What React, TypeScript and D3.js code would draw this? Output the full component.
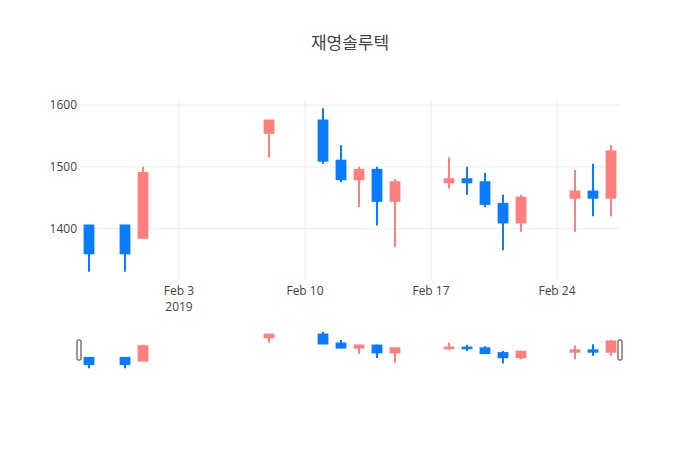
import { useMemo } from "react";
import * as d3 from "d3";

const TITLE = "재영솔루텍";

const DATES = [
  "2019-01-29", "2019-01-31", "2019-02-01", "2019-02-08", "2019-02-11",
  "2019-02-12", "2019-02-13", "2019-02-14", "2019-02-15", "2019-02-18",
  "2019-02-19", "2019-02-20", "2019-02-21", "2019-02-22", "2019-02-25",
  "2019-02-26", "2019-02-27",
];
const OPENS = [1405, 1405, 1385, 1555, 1575, 1510, 1480, 1495, 1445, 1475, 1480, 1475, 1440, 1410, 1450, 1460, 1450];
const HIGHS = [1405, 1405, 1500, 1575, 1595, 1535, 1500, 1500, 1480, 1515, 1500, 1490, 1455, 1455, 1495, 1505, 1535];
const LOWS = [1330, 1330, 1385, 1515, 1505, 1475, 1435, 1405, 1370, 1465, 1455, 1435, 1365, 1395, 1395, 1420, 1420];
const CLOSES = [1360, 1360, 1490, 1575, 1510, 1480, 1495, 1445, 1475, 1480, 1475, 1440, 1410, 1450, 1460, 1450, 1525];

const X_TICKS = ["2019-02-03", "2019-02-10", "2019-02-17", "2019-02-24"];
const X_TICK_LABELS = ["Feb 3", "Feb 10", "Feb 17", "Feb 24"];
const Y_TICKS = [1400, 1500, 1600];

const UP = "#ff7f7f";
const DOWN = "#0a7bff";
const FONT = "'Open Sans', 'Noto Sans CJK KR', sans-serif";

const W = 700;
const H = 450;
const margin = { left: 80, right: 80, top: 100 };
const plotBottom = 280;
const slider = { top: 330, bottom: 370 };

const parse = (s: string) => new Date(s + "T00:00:00Z");
const HALF_DAY = 12 * 3600 * 1000;

export default function App() {
  const candles = useMemo(
    () =>
      DATES.map((d, i) => ({
        date: parse(d),
        open: OPENS[i],
        high: HIGHS[i],
        low: LOWS[i],
        close: CLOSES[i],
      })),
    []
  );

  const first = candles[0].date.getTime();
  const last = candles[candles.length - 1].date.getTime();
  const x = d3
    .scaleUtc()
    .domain([new Date(first - HALF_DAY), new Date(last + HALF_DAY)])
    .range([margin.left, W - margin.right]);

  const lo = d3.min(LOWS)!;
  const hi = d3.max(HIGHS)!;
  const pad = (hi - lo) * 0.05;
  const yDomain = [lo - pad, hi + pad];
  const y = d3.scaleLinear().domain(yDomain).range([plotBottom, margin.top]);
  const ys = d3.scaleLinear().domain(yDomain).range([slider.bottom, slider.top]);

  // half body width, in pixels (plotly box gaps)
  const dayPx = x(new Date(first + 2 * HALF_DAY)) - x(new Date(first));
  const halfW = dayPx * 0.245;

  const drawCandles = (yScale: d3.ScaleLinear<number, number>) =>
    candles.map((c, i) => {
      const color = c.close >= c.open ? UP : DOWN;
      const cx = x(c.date);
      const top = yScale(Math.max(c.open, c.close));
      const bot = yScale(Math.min(c.open, c.close));
      return (
        <g key={i}>
          <line
            x1={cx}
            x2={cx}
            y1={yScale(c.high)}
            y2={yScale(c.low)}
            stroke={color}
            strokeWidth={2}
          />
          <rect
            x={cx - halfW}
            y={top}
            width={halfW * 2}
            height={Math.max(0.5, bot - top)}
            fill={color}
            stroke={color}
            strokeWidth={2}
          />
        </g>
      );
    });

  const [x0, x1] = x.range();

  return (
    <svg
      width={W}
      height={H}
      style={{ position: "fixed", left: 0, top: 0, background: "#fff" }}
      fontFamily={FONT}
    >
      <text x={W / 2} y={49} textAnchor="middle" fontSize={17} fill="#444">
        {TITLE}
      </text>

      {/* grid */}
      {Y_TICKS.map((t) => (
        <line key={t} x1={x0} x2={x1} y1={y(t)} y2={y(t)} stroke="#eee" />
      ))}
      {X_TICKS.map((t) => (
        <line
          key={t}
          x1={x(parse(t))}
          x2={x(parse(t))}
          y1={margin.top}
          y2={plotBottom}
          stroke="#eee"
        />
      ))}

      {/* axis labels */}
      {Y_TICKS.map((t) => (
        <text
          key={t}
          x={x0 - 3}
          y={y(t)}
          dy="0.35em"
          textAnchor="end"
          fontSize={12}
          fill="#444"
        >
          {t}
        </text>
      ))}
      {X_TICKS.map((t, i) => (
        <text
          key={t}
          x={x(parse(t))}
          y={295}
          textAnchor="middle"
          fontSize={12}
          fill="#444"
        >
          {X_TICK_LABELS[i]}
          {i === 0 && (
            <tspan x={x(parse(t))} dy={15.6}>
              2019
            </tspan>
          )}
        </text>
      ))}

      <g>{drawCandles(y)}</g>

      {/* range slider */}
      <g>{drawCandles(ys)}</g>
      {[x0, x1].map((hx, i) => (
        <rect
          key={i}
          x={hx - 2 - 0.5 + (i === 0 ? -0.5 : 0.5)}
          y={slider.top + 10}
          width={4}
          height={(slider.bottom - slider.top) / 2}
          rx={1}
          fill="#fff"
          stroke="#333"
          strokeWidth={1}
        />
      ))}
    </svg>
  );
}
